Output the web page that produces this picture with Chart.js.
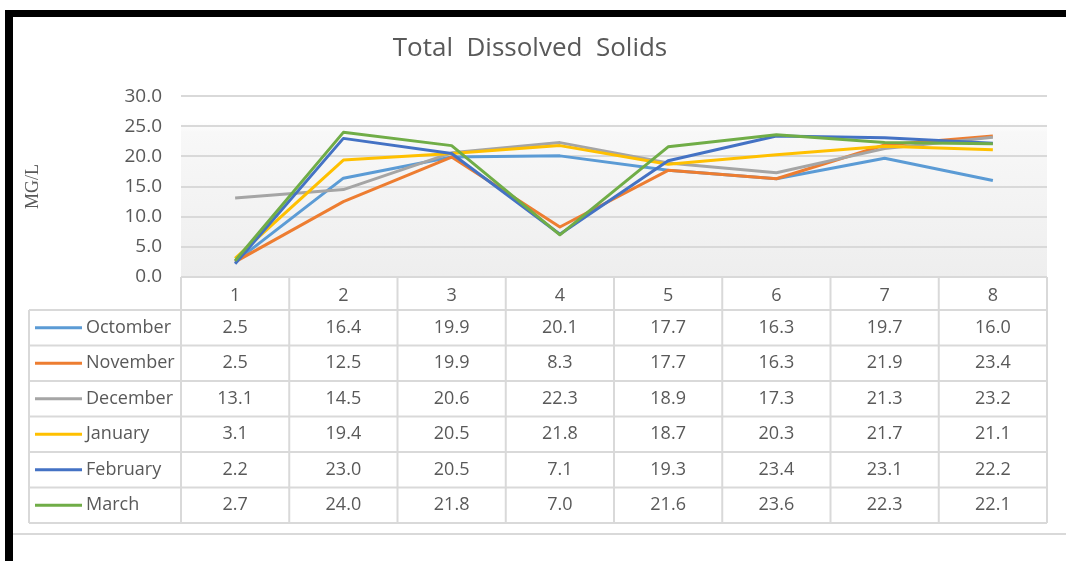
<!DOCTYPE html>
<html lang="en">
  <head>
    <meta charset="UTF-8" />
    <title>Total Dissolved Solids</title>
    <script src="https://cdn.jsdelivr.net/npm/chart.js"></script>
    <style>
      body { margin: 0; background: #fff; }
      canvas { display: block; }
    </style>
  </head>
  <body>
    <canvas id="grafico" width="1066" height="561"></canvas>
  </body>
</html>
<script>
  // sampling points along the x axis
  var pontos = ["1", "2", "3", "4", "5", "6", "7", "8"];

  // one series per month (mg/L)
  var meses = ["Octomber", "November", "December", "January", "February", "March"];
  var octomber = [2.5, 16.4, 19.9, 20.1, 17.7, 16.3, 19.7, 16.0];
  var november = [2.5, 12.5, 19.9, 8.3, 17.7, 16.3, 21.9, 23.4];
  var december = [13.1, 14.5, 20.6, 22.3, 18.9, 17.3, 21.3, 23.2];
  var january = [3.1, 19.4, 20.5, 21.8, 18.7, 20.3, 21.7, 21.1];
  var february = [2.2, 23.0, 20.5, 7.1, 19.3, 23.4, 23.1, 22.2];
  var march = [2.7, 24.0, 21.8, 7.0, 21.6, 23.6, 22.3, 22.1];

  var cores = ["#5B9BD5", "#ED7D31", "#A5A5A5", "#FFC000", "#4472C4", "#70AD47"];
  var series = [octomber, november, december, january, february, march];

  var corTexto = "#595959";
  var corGrade = "#d9d9d9";
  var fonte = "'Open Sans', sans-serif";

  // data table under the plot (header row + one row per month)
  var alturaCabecalho = 33;
  var alturaLinha = 35.5;
  var colunaLegenda = 29;

  var tabelaDados = {
    id: "tabelaDados",
    beforeDraw: function (chart) {
      var ctx = chart.ctx;
      var area = chart.chartArea;
      ctx.save();
      ctx.fillStyle = "#fff";
      ctx.fillRect(0, 0, chart.width, chart.height);

      // frame
      ctx.fillStyle = "#000";
      ctx.fillRect(5, 10, chart.width - 5, 7);
      ctx.fillRect(5, 10, 8, chart.height - 10);
      ctx.fillStyle = corGrade;
      ctx.fillRect(13, 533, chart.width - 13, 2);

      // plot background
      var grad = ctx.createLinearGradient(0, area.top, 0, area.bottom);
      grad.addColorStop(0, "#ffffff");
      grad.addColorStop(0.14, "#ffffff");
      grad.addColorStop(0.2, "#f8f8f8");
      grad.addColorStop(1, "#eeeeee");
      ctx.fillStyle = grad;
      ctx.fillRect(area.left, area.top, area.right - area.left, area.bottom - area.top);
      ctx.restore();
    },
    afterDraw: function (chart) {
      var ctx = chart.ctx;
      var area = chart.chartArea;
      var largura = (area.right - area.left) / pontos.length;
      var topo = area.bottom;
      var inicioLinhas = topo + alturaCabecalho;
      var fim = inicioLinhas + alturaLinha * meses.length;

      ctx.save();
      ctx.strokeStyle = corGrade;
      ctx.lineWidth = 2;
      ctx.beginPath();
      for (var c = 0; c <= pontos.length; c++) {
        var x = area.left + c * largura;
        ctx.moveTo(x, topo);
        ctx.lineTo(x, fim);
      }
      ctx.moveTo(colunaLegenda, inicioLinhas);
      ctx.lineTo(colunaLegenda, fim);
      for (var r = 0; r <= meses.length; r++) {
        var y = inicioLinhas + r * alturaLinha;
        ctx.moveTo(colunaLegenda, y);
        ctx.lineTo(area.right, y);
      }
      ctx.stroke();

      ctx.font = "18px " + fonte;
      ctx.textBaseline = "middle";
      for (var i = 0; i < meses.length; i++) {
        var cy = inicioLinhas + (i + 0.5) * alturaLinha;
        // legend key
        ctx.strokeStyle = cores[i];
        ctx.lineWidth = 3;
        ctx.beginPath();
        ctx.moveTo(35, cy);
        ctx.lineTo(82, cy);
        ctx.stroke();
        ctx.fillStyle = corTexto;
        ctx.textAlign = "left";
        ctx.fillText(meses[i], 86, cy);
        ctx.textAlign = "center";
        for (var j = 0; j < pontos.length; j++) {
          var cx = chart.scales.x.getPixelForValue(j);
          ctx.fillText(series[i][j].toFixed(1), cx, cy);
        }
      }
      ctx.restore();
    },
  };

  var datasets = meses.map(function (mes, i) {
    return {
      label: mes,
      data: series[i],
      borderColor: cores[i],
      backgroundColor: cores[i],
      borderWidth: 3,
      pointRadius: 0,
      borderJoinStyle: "round",
      order: meses.length - i,
    };
  });

  new Chart(document.getElementById("grafico"), {
    type: "line",
    data: { labels: pontos, datasets: datasets },
    plugins: [tabelaDados],
    options: {
      responsive: false,
      animation: false,
      devicePixelRatio: 1,
      layout: { padding: { left: 13, right: 19, top: 17, bottom: 0 } },
      plugins: {
        legend: { display: false },
        tooltip: { enabled: false },
        title: {
          display: true,
          text: "Total  Dissolved  Solids",
          color: corTexto,
          font: { family: fonte, size: 26, weight: "normal" },
          padding: { top: 16, bottom: 32 },
        },
      },
      scales: {
        x: {
          offset: true,
          grid: { display: false },
          border: { display: false },
          ticks: { color: corTexto, font: { family: fonte, size: 18 }, padding: 0 },
          afterFit: function (scale) {
            scale.height = 284;
          },
        },
        y: {
          min: 0,
          max: 30,
          border: { display: false },
          grid: { color: corGrade, lineWidth: 2, drawTicks: false },
          ticks: {
            stepSize: 5,
            color: corTexto,
            padding: 19,
            font: { family: fonte, size: 19 },
            callback: function (v) {
              return v.toFixed(1);
            },
          },
          title: {
            display: true,
            text: "MG/L",
            color: corTexto,
            font: { family: "'Liberation Serif', serif", size: 18 },
            padding: { top: 9, bottom: 0 },
          },
          afterFit: function (scale) {
            scale.width = 168;
          },
        },
      },
    },
  });
</script>
